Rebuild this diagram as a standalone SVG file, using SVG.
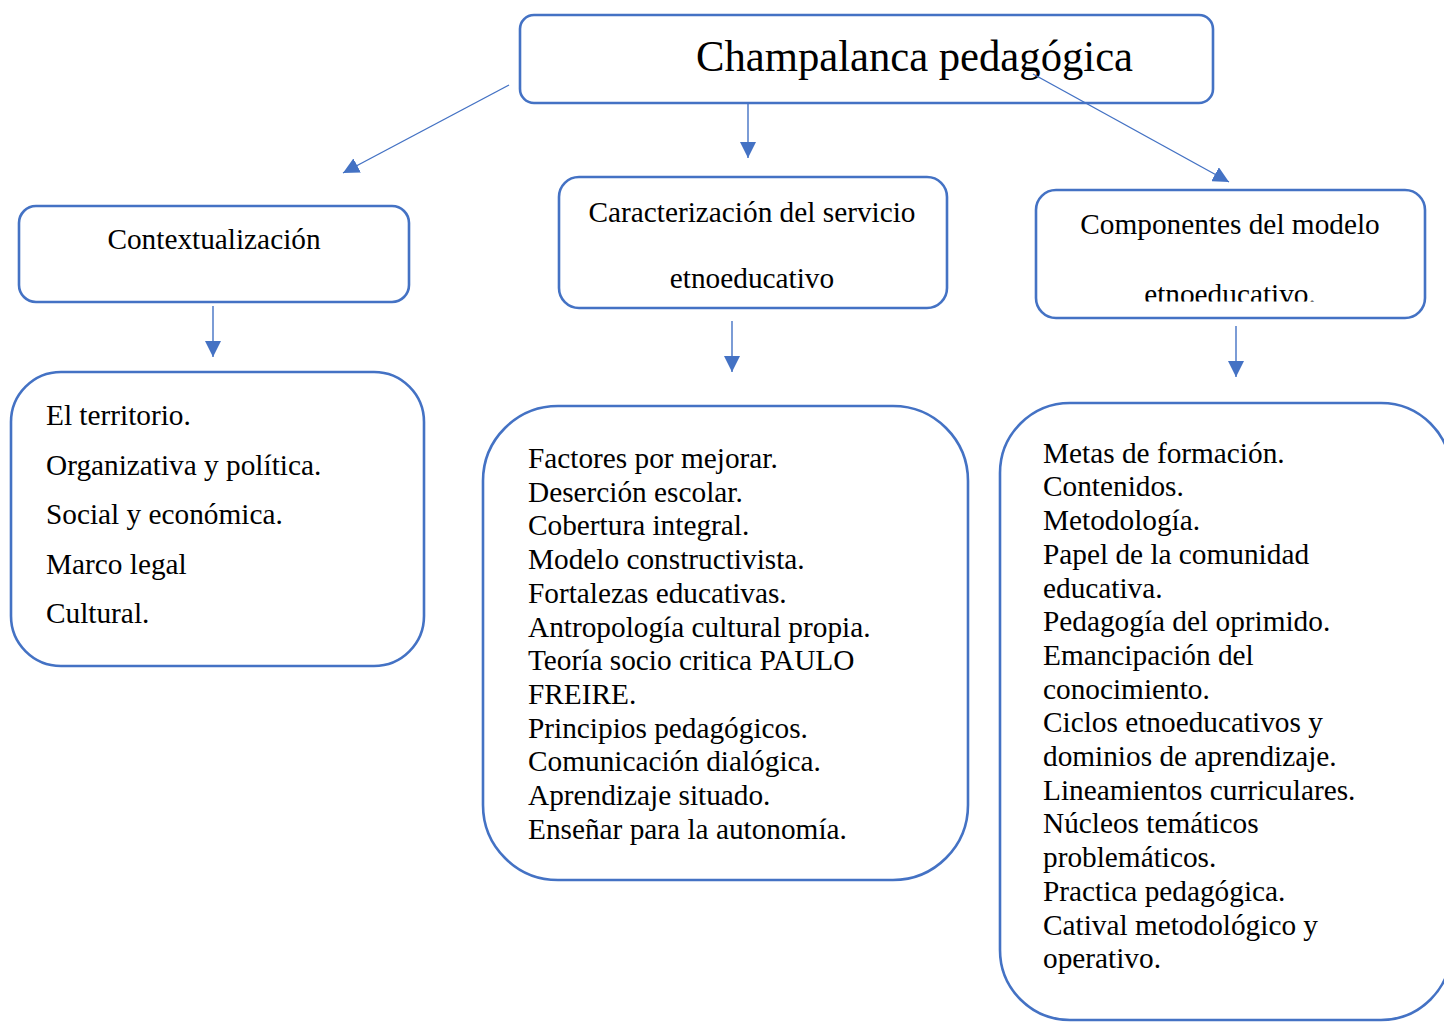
<svg xmlns="http://www.w3.org/2000/svg" width="1444" height="1022" viewBox="0 0 1444 1022">
<style>
.box{fill:#fff;stroke:#4472C4;stroke-width:2.6}
.t{font-family:"Liberation Serif","Times New Roman",serif;font-size:29.3px;fill:#000}
.c{text-anchor:middle}
.conn{stroke:#4472C4;stroke-width:1.4;fill:none;marker-end:url(#ah)}
</style>
<defs>
<marker id="ah" viewBox="0 0 10 10" refX="10" refY="5" markerUnits="userSpaceOnUse" markerWidth="16" markerHeight="16" orient="auto">
<path d="M0,0 L10,5 L0,10 z" fill="#4472C4"/>
</marker>
<clipPath id="clipComp"><rect x="1036" y="190" width="390" height="111.5"/></clipPath>
</defs>
<rect width="1444" height="1022" fill="#fff"/>

<g id="node-title">
<rect class="box" x="520" y="15" width="693" height="88" rx="14"/>
<text class="t" x="696" y="71" style="font-size:45px" textLength="437" lengthAdjust="spacingAndGlyphs">Champalanca pedagógica</text>
</g>

<g id="node-contextualizacion">
<rect class="box" x="19" y="206" width="390" height="96" rx="17"/>
<text class="t c" x="214" y="249">Contextualización</text>
</g>

<g id="node-caracterizacion">
<rect class="box" x="559" y="177" width="388" height="131" rx="20"/>
<text class="t c" x="752" y="222">Caracterización del servicio</text>
<text class="t c" x="752" y="288">etnoeducativo</text>
</g>

<g id="node-componentes">
<rect class="box" x="1036" y="190" width="389" height="128" rx="20"/>
<text class="t c" x="1230" y="234">Componentes del modelo</text>
<text class="t c" x="1230" y="304" clip-path="url(#clipComp)">etnoeducativo.</text>
</g>

<g id="node-lista-contexto">
<rect class="box" x="11" y="372" width="413" height="294" rx="50"/>
<text class="t" x="46" y="425">El territorio.</text>
<text class="t" x="46" y="475">Organizativa y política.</text>
<text class="t" x="46" y="524">Social y económica.</text>
<text class="t" x="46" y="574">Marco legal</text>
<text class="t" x="46" y="623">Cultural.</text>
</g>

<g id="node-lista-caracterizacion">
<rect class="box" x="483" y="406" width="485" height="474" rx="75"/>
<text class="t" x="528" y="468">Factores por mejorar.</text>
<text class="t" x="528" y="501.7">Deserción escolar.</text>
<text class="t" x="528" y="535.4">Cobertura integral.</text>
<text class="t" x="528" y="569.1">Modelo constructivista.</text>
<text class="t" x="528" y="602.8">Fortalezas educativas.</text>
<text class="t" x="528" y="636.5">Antropología cultural propia.</text>
<text class="t" x="528" y="670.2">Teoría socio critica PAULO</text>
<text class="t" x="528" y="703.9">FREIRE.</text>
<text class="t" x="528" y="737.6">Principios pedagógicos.</text>
<text class="t" x="528" y="771.3">Comunicación dialógica.</text>
<text class="t" x="528" y="805">Aprendizaje situado.</text>
<text class="t" x="528" y="838.7">Enseñar para la autonomía.</text>
</g>

<g id="node-lista-componentes">
<rect class="box" x="1000" y="403" width="451" height="617" rx="70"/>
<text class="t" x="1043" y="462.7">Metas de formación.</text>
<text class="t" x="1043" y="496.4">Contenidos.</text>
<text class="t" x="1043" y="530.1">Metodología.</text>
<text class="t" x="1043" y="563.8">Papel de la comunidad</text>
<text class="t" x="1043" y="597.5">educativa.</text>
<text class="t" x="1043" y="631.2">Pedagogía del oprimido.</text>
<text class="t" x="1043" y="664.9">Emancipación del</text>
<text class="t" x="1043" y="698.6">conocimiento.</text>
<text class="t" x="1043" y="732.3">Ciclos etnoeducativos y</text>
<text class="t" x="1043" y="766">dominios de aprendizaje.</text>
<text class="t" x="1043" y="799.7">Lineamientos curriculares.</text>
<text class="t" x="1043" y="833.4">Núcleos temáticos</text>
<text class="t" x="1043" y="867.1">problemáticos.</text>
<text class="t" x="1043" y="900.8">Practica pedagógica.</text>
<text class="t" x="1043" y="934.5">Catival metodológico y</text>
<text class="t" x="1043" y="968.2">operativo.</text>
</g>

<g id="connectors">
<line class="conn" x1="509" y1="85" x2="343" y2="173"/>
<line class="conn" x1="748" y1="103" x2="748" y2="158"/>
<line class="conn" x1="1033" y1="74" x2="1229" y2="182"/>
<line class="conn" x1="213" y1="306" x2="213" y2="357"/>
<line class="conn" x1="732" y1="321" x2="732" y2="372"/>
<line class="conn" x1="1236" y1="326" x2="1236" y2="377"/>
</g>
</svg>
